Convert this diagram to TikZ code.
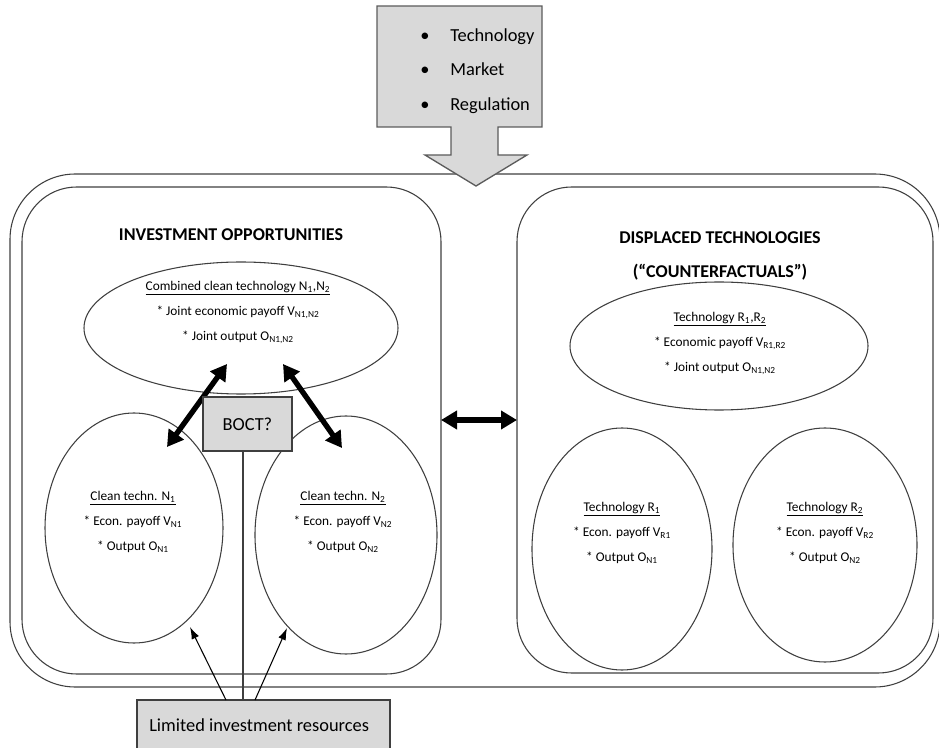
\documentclass[tikz,border=0pt]{standalone}
\usepackage{fontspec}
\setmainfont{Carlito}
\usetikzlibrary{shapes.geometric,arrows.meta}
\definecolor{boxgray}{HTML}{D9D9D9}
\definecolor{edge}{HTML}{3F3F3F}
\begin{document}
\begin{tikzpicture}[x=0.75pt,y=-0.75pt,
  frame/.style={draw=edge,line width=0.8pt,rounded corners=#1,inner sep=0pt,outer sep=0pt},
  oval/.style={draw=edge,line width=0.8pt,ellipse,inner sep=0pt,outer sep=0pt},
  graybox/.style={draw=edge,fill=boxgray,line width=0.9pt,inner sep=0pt,outer sep=0pt},
  body/.style={align=center,font=\fontsize{10}{18.75}\selectfont,inner sep=0pt},
  title/.style={font=\fontsize{13.5}{15}\selectfont\bfseries,inner sep=0pt},
  big/.style={font=\fontsize{13.8}{16}\selectfont,inner sep=0pt},
  heavyarrow/.style={line width=#1,{Triangle[length=12pt,width=13.5pt]}-{Triangle[length=12pt,width=13.5pt]}},
  thinarrow/.style={line width=0.8pt,-{Latex[length=9pt,width=6pt]}}]

\useasboundingbox (0,0) rectangle (939,748);

% containers
\node[frame=49pt,minimum width=697.5pt,minimum height=384.75pt] (outer) at (475,430.5) {};
\node[frame=41pt,minimum width=314.25pt,minimum height=365.25pt] (inl) at (231.5,430.5) {};
\node[frame=41pt,minimum width=312pt,minimum height=364.5pt] (inr) at (725,430) {};

% ovals
\node[oval,minimum width=235.5pt,minimum height=99pt] (comb) at (241,328) {};
\node[oval,minimum width=133.5pt,minimum height=172.5pt] (n1) at (134,528) {};
\node[oval,minimum width=136.5pt,minimum height=178.5pt] (n2) at (346,535) {};
\node[oval,minimum width=223.5pt,minimum height=96pt] (rr) at (719,346) {};
\node[oval,minimum width=135pt,minimum height=181.5pt] (r1) at (622,549) {};
\node[oval,minimum width=138pt,minimum height=175.5pt] (r2) at (825,545) {};

% driver callout with downward arrow
\draw[graybox,line width=1pt,draw=edge!85]
  (377,6) -- (542,6) -- (542,127) -- (498,127) -- (498,155) -- (527,155)
  -- (476,186) -- (425,155) -- (451,155) -- (451,127) -- (377,127) -- cycle;
\foreach \y/\t [count=\i] in {41.5/Technology,76/Market,111/Regulation}{
  \node[big,anchor=base] (bul\i) at (425,\y) {\textbullet};
  \node[big,anchor=base west] (drv\i) at (450,\y) {\t};
}

% section titles
\node[title] (tinv) at (231,235) {INVESTMENT OPPORTUNITIES};
\node[title] (tdis) at (720,238) {DISPLACED TECHNOLOGIES};
\node[title] (tcf) at (720,272) {(“COUNTERFACTUALS”)};

% oval texts
\node[body] (combt) at (238,312) {\underline{Combined clean technology N\textsubscript{1},N\textsubscript{2}}\\
  * Joint economic payoff V\textsubscript{N1,N2}\\ * Joint output O\textsubscript{N1,N2}};
\node[body] (n1t) at (133,522) {\underline{Clean techn. N\textsubscript{1}}\\
  * Econ. payoff V\textsubscript{N1}\\ * Output O\textsubscript{N1}};
\node[body] (n2t) at (343,522) {\underline{Clean techn. N\textsubscript{2}}\\
  * Econ. payoff V\textsubscript{N2}\\ * Output O\textsubscript{N2}};
\node[body] (rrt) at (720,343) {\underline{Technology R\textsubscript{1},R\textsubscript{2}}\\
  * Economic payoff V\textsubscript{R1,R2}\\ * Joint output O\textsubscript{N1,N2}};
\node[body] (r1t) at (622,533) {\underline{Technology R\textsubscript{1}}\\
  * Econ. payoff V\textsubscript{R1}\\ * Output O\textsubscript{N1}};
\node[body] (r2t) at (825,533) {\underline{Technology R\textsubscript{2}}\\
  * Econ. payoff V\textsubscript{R2}\\ * Output O\textsubscript{N2}};

% heavy two-way arrows
\coordinate (a1) at (167,447);
\coordinate (a2) at (227,364);
\coordinate (b1) at (283,364);
\coordinate (b2) at (342,448);
\coordinate (hy) at (480,420);
\draw[heavyarrow=4pt] (a1) -- (a2);
\draw[heavyarrow=4pt] (b1) -- (b2);
\draw[heavyarrow=5pt] (inl.east |- hy) -- (inr.west |- hy);

% BOCT box and resources box
\node[graybox,minimum width=66.75pt,minimum height=40.5pt,font=\fontsize{13.8}{16}\selectfont] (boct) at (247.5,424) {BOCT?};
\node[graybox,minimum width=189.75pt,minimum height=45pt] (lim) at (263.5,730) {};
\node[big,anchor=base west] (limt) at (149,731) {Limited investment resources};

\coordinate (vx) at (243,600);
\draw[draw=edge,line width=0.8pt] (boct.south -| vx) -- (lim.north -| vx);

% resource arrows
\coordinate (s1) at (226,700);
\coordinate (s2) at (255,700);
\coordinate (t1) at (190,627);
\coordinate (t2) at (287,628);
\draw[thinarrow] (s1) -- (t1);
\draw[thinarrow] (s2) -- (t2);
\end{tikzpicture}
\end{document}
